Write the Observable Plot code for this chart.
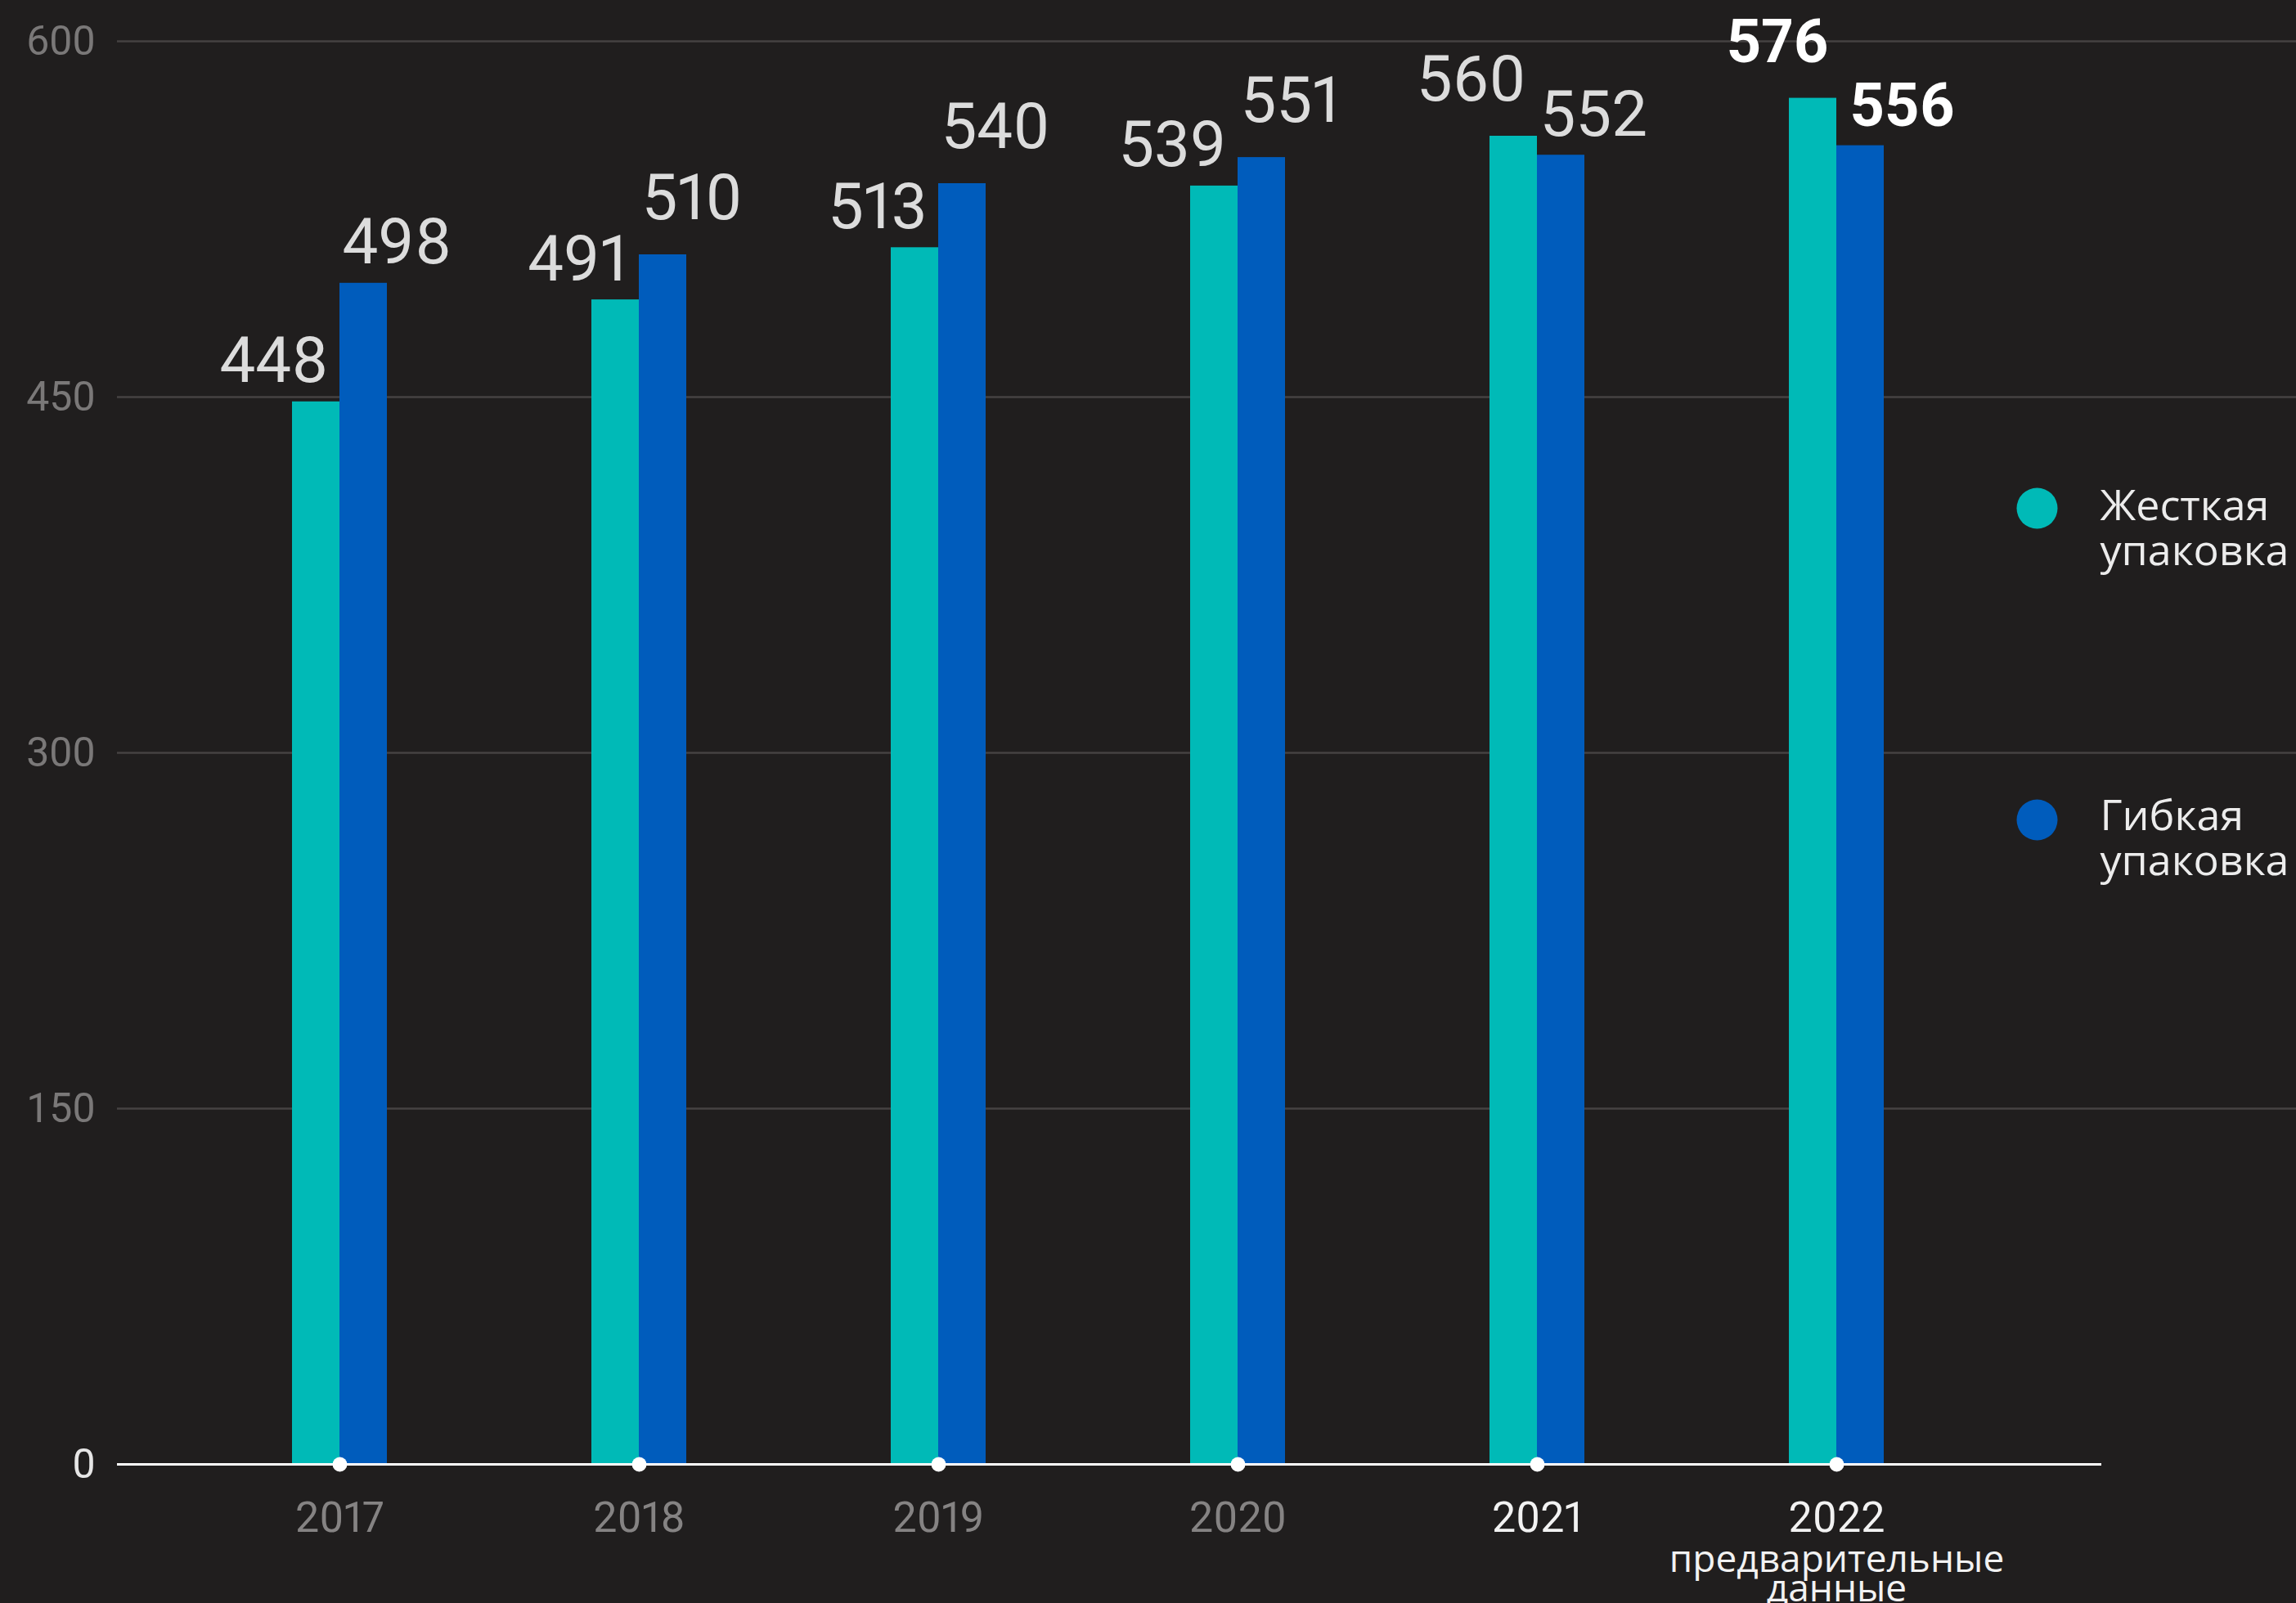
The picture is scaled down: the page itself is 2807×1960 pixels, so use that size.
<!DOCTYPE html>
<html>
<head>
<meta charset="utf-8">
<script src="https://cdn.jsdelivr.net/npm/d3@7"></script>
<script src="https://cdn.jsdelivr.net/npm/@observablehq/plot@0.6"></script>
<style>
  html, body { margin: 0; padding: 0; background: #201e1e; }
  #chart svg { display: block; }
</style>
</head>
<body>
<div id="chart"></div>
<script>
// ---- data ----
const years = [2017, 2018, 2019, 2020, 2021, 2022];
const rigid = [448, 491, 513, 539, 560, 576];      // Жесткая упаковка
const flexible = [498, 510, 540, 551, 552, 556];   // Гибкая упаковка
const seriesNames = ["Жесткая упаковка", "Гибкая упаковка"];
const yTicks = [0, 150, 300, 450, 600];
const noteYear = [2022];
const noteText = ["предварительные данные"];

// ---- style ----
const BG = "#201e1e";
const TEAL = "#00bab7";
const BLUE = "#005cbc";
const colors = [TEAL, BLUE];
const highlightFrom = 2021; // brighter year labels from this year
const boldYear = 2022;

const rows = years.map((year, i) => ({year, rigid: rigid[i], flexible: flexible[i]}));
const lifted = (a, b) => a > b && a - b < 40;

const numFont = "Roboto, 'Open Sans', sans-serif";
const textFont = "'Open Sans', 'Noto Sans', sans-serif";
const pnum = "proportional-nums";

const valueLabel = (key, anchor, dx, subset, liftTest, bold) => Plot.text(subset, {
  x: "year", y: key, text: d => String(d[key]),
  textAnchor: anchor, lineAnchor: "bottom", dx,
  dy: liftTest ? -44 : -24,
  fill: bold ? "#ffffff" : "#dcdcdc",
  fontSize: bold ? 74 : 78,
  fontWeight: bold ? "bold" : "normal",
  fontFamily: numFont,
  fontVariant: pnum
});

const regularRows = rows.filter(d => d.year !== boldYear);
const boldRows = rows.filter(d => d.year === boldYear);

const marks = [
  Plot.ruleY(yTicks.filter(d => d > 0), {stroke: "#454242", strokeWidth: 2.5}),
  Plot.barY(rows, {x: "year", y: "rigid", fill: TEAL, insetRight: 58}),
  Plot.barY(rows, {x: "year", y: "flexible", fill: BLUE, insetLeft: 58}),
  Plot.ruleY([0], {stroke: "#ffffff", strokeWidth: 3, insetRight: 238}),
  Plot.dot(years, {x: d => d, frameAnchor: "bottom", r: 9, fill: "#ffffff", stroke: "none"}),
  // value labels (rigid: left of center; flexible: right of center)
  valueLabel("rigid", "end", -14, regularRows.filter(d => lifted(d.rigid, d.flexible)), true, false),
  valueLabel("rigid", "end", -14, regularRows.filter(d => !lifted(d.rigid, d.flexible)), false, false),
  valueLabel("flexible", "start", 3, regularRows.filter(d => lifted(d.flexible, d.rigid)), true, false),
  valueLabel("flexible", "start", 3, regularRows.filter(d => !lifted(d.flexible, d.rigid)), false, false),
  valueLabel("rigid", "end", -10, boldRows.filter(d => lifted(d.rigid, d.flexible)), true, true),
  valueLabel("rigid", "end", -10, boldRows.filter(d => !lifted(d.rigid, d.flexible)), false, true),
  valueLabel("flexible", "start", 16, boldRows.filter(d => lifted(d.flexible, d.rigid)), true, true),
  valueLabel("flexible", "start", 16, boldRows.filter(d => !lifted(d.flexible, d.rigid)), false, true),
  // y tick labels
  Plot.text(yTicks.filter(d => d > 0), {y: d => d, text: d => String(d), frameAnchor: "left", dx: -27,
    textAnchor: "end", fill: "#7a7878", fontSize: 50, fontFamily: numFont}),
  Plot.text(yTicks.filter(d => d === 0), {y: d => d, text: d => String(d), frameAnchor: "left", dx: -27,
    textAnchor: "end", fill: "#e6e6e6", fontSize: 50, fontFamily: numFont}),
  // x tick labels
  Plot.text(years.filter(d => d < highlightFrom), {x: d => d, text: d => String(d), frameAnchor: "bottom",
    lineAnchor: "bottom", dy: 82, fill: "#858383", fontSize: 52, fontFamily: numFont, fontVariant: pnum}),
  Plot.text(years.filter(d => d >= highlightFrom), {x: d => d, text: d => String(d), frameAnchor: "bottom",
    lineAnchor: "bottom", dy: 82, fill: "#f2f2f2", fontSize: 52, fontFamily: numFont, fontVariant: pnum}),
  Plot.text(noteYear, {x: d => d, text: (d, i) => noteText[i].replace(" ", "\n"), frameAnchor: "bottom",
    lineAnchor: "bottom", dy: 167, lineHeight: 36 / 46, fill: "#f2f2f2", fontSize: 46, fontFamily: textFont}),
  // legend
  ...seriesNames.flatMap((name, i) => [
    Plot.dot([name], {frameAnchor: "top-right", dx: -317, dy: 571 + i * 381, r: 25, fill: colors[i], stroke: "none"}),
    Plot.text([name], {frameAnchor: "top-right", dx: -240, dy: 595 + i * 379, text: d => d.replace(" ", "\n"),
      textAnchor: "start", lineAnchor: "middle", lineHeight: 55 / 52, fill: "#ececec", fontSize: 52, fontFamily: textFont})
  ])
];

const chart = Plot.plot({
  width: 2807,
  height: 1960,
  marginLeft: 143,
  marginRight: 0,
  marginTop: 50,
  marginBottom: 170,
  style: {background: BG, color: "#dcdcdc", fontFamily: numFont, overflow: "visible"},
  x: {type: "band", domain: years, range: [104.2, 2555.8], padding: 0.6838, axis: null},
  y: {domain: [0, 600], axis: null},
  marks
});
document.getElementById("chart").appendChild(chart);
</script>
</body>
</html>
